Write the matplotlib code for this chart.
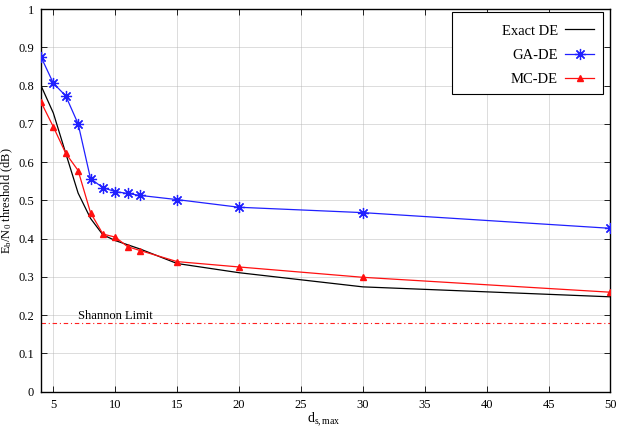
import matplotlib
matplotlib.use("Agg")
import matplotlib.pyplot as plt
from matplotlib.patches import Rectangle

x = [4, 5, 6, 7, 8, 9, 10, 11, 12, 15, 20, 30, 50]
exact_de = [0.800, 0.728, 0.623, 0.519, 0.453, 0.410, 0.395, 0.384, 0.373, 0.335, 0.311, 0.274, 0.248]
ga_de = [0.875, 0.806, 0.773, 0.700, 0.557, 0.533, 0.523, 0.518, 0.513, 0.502, 0.482, 0.468, 0.427]
mc_de = [0.757, 0.692, 0.623, 0.578, 0.468, 0.412, 0.404, 0.379, 0.369, 0.340, 0.326, 0.299, 0.260]
shannon = 0.18
xticks = [5, 10, 15, 20, 25, 30, 35, 40, 45, 50]
yticks = [0, 0.1, 0.2, 0.3, 0.4, 0.5, 0.6, 0.7, 0.8, 0.9, 1]
ytick_labels = ["0", "0.1", "0.2", "0.3", "0.4", "0.5", "0.6", "0.7", "0.8", "0.9", "1"]

plt.rcParams["font.family"] = ["Liberation Serif", "DejaVu Serif"]
plt.rcParams["mathtext.fontset"] = "custom"
plt.rcParams["mathtext.rm"] = "Liberation Serif"
plt.rcParams["mathtext.it"] = "Liberation Serif"

fig = plt.figure(figsize=(6.21, 4.30), dpi=100)
ax = fig.add_axes([0.066, 0.089, 0.917, 0.890])

ax.plot(x, exact_de, color="black", lw=0.9, label="Exact DE", zorder=3)
ax.plot(x, ga_de, color="#2020ff", lw=0.9, marker=(8, 2, 0), ms=8, mew=0.9, label="GA-DE", zorder=3)
ax.plot(x, mc_de, color="#ff1010", lw=0.9, marker="^", ms=5, label="MC-DE", zorder=3)
ax.axhline(shannon, color="#ff2020", lw=0.8, ls=(0, (4, 2.5, 1, 2.5)), zorder=2)
ax.text(7.0, 0.197, "Shannon Limit", fontsize=9, va="center", ha="left")

ax.set_xlim(4, 50)
ax.set_ylim(0, 1)
ax.set_xticks(xticks)
ax.set_yticks(yticks)
ax.set_yticklabels(ytick_labels)
ax.tick_params(direction="in", top=True, right=True, labelsize=9, length=4, width=0.6, pad=5)
ax.grid(True, color="#b0b0b0", ls=(0, (1.2, 1.2)), lw=0.6)
for s in ax.spines.values():
    s.set_linewidth(1.0)

ax.set_xlabel(r"$\mathregular{d_{s,max}}$", fontsize=10)
ax.xaxis.set_label_coords((324 - 41) / 569.7, (391.7 - 411) / 382.7)
ax.set_ylabel(r"$\mathregular{E_b/N_0}$ threshold (dB)", fontsize=9)
ax.yaxis.set_label_coords((15 - 41) / 569.7, 0.5)

# legend frame (gnuplot style, extra room on the left)
ax.add_patch(Rectangle((0.7214, 0.778), 0.2651, 0.214, transform=ax.transAxes,
                       facecolor="white", edgecolor="black", lw=0.8, zorder=4))
leg = ax.legend(loc="upper right", markerfirst=False, fontsize=10.5, frameon=False,
                handlelength=2.0, handletextpad=0.5, borderpad=0, labelspacing=0.75,
                bbox_to_anchor=((602 - 41) / 569.7, (391.7 - 17) / 382.7))
leg.set_zorder(5)

fig.savefig("out.png", dpi=100)
